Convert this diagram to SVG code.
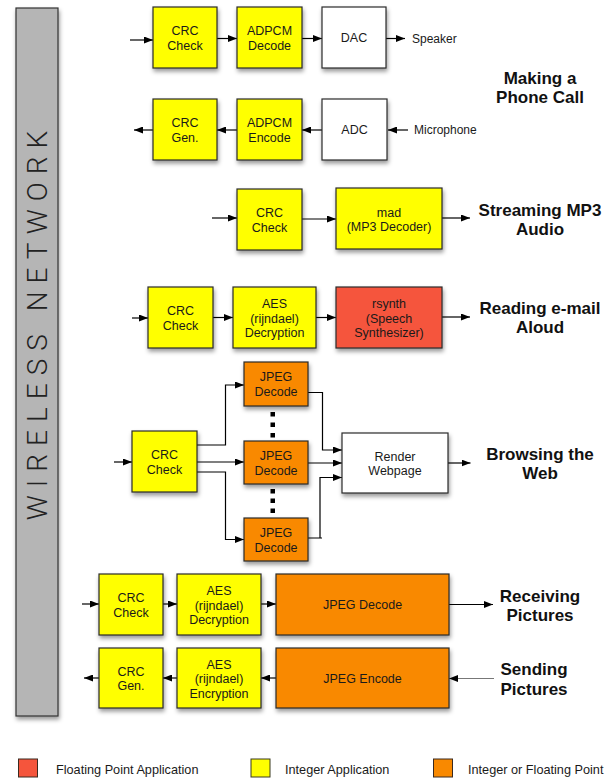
<svg xmlns="http://www.w3.org/2000/svg" width="615" height="778" viewBox="0 0 615 778">
<defs>
  <filter id="sh" x="-20%" y="-20%" width="140%" height="150%">
    <feDropShadow dx="1" dy="3" stdDeviation="2" flood-color="#000" flood-opacity="0.4"/>
  </filter>
  <marker id="ah" markerUnits="userSpaceOnUse" markerWidth="9" markerHeight="7" refX="9" refY="3.5" orient="auto">
    <path d="M0,0 L9,3.5 L0,7 z" fill="#000"/>
  </marker>
</defs>
<style>
  .box { stroke: #2b2b2b; stroke-width: 1.2; filter: url(#sh); }
  .y { fill: #ffff00; }
  .o { fill: #f98900; }
  .r { fill: #f5553c; }
  .w { fill: #ffffff; }
  .t { font-family: "Liberation Sans", Arial, sans-serif; font-size: 12.5px; fill: #1a1a1a; text-anchor: middle; }
  .lab { font-family: "Liberation Sans", Arial, sans-serif; font-size: 12px; fill: #1a1a1a; }
  .ttl { font-family: "Liberation Sans", Arial, sans-serif; font-size: 17px; font-weight: bold; fill: #111; text-anchor: middle; }
  .leg { font-family: "Liberation Sans", Arial, sans-serif; font-size: 12.7px; fill: #1a1a1a; }
  .c { fill: none; stroke: #000; stroke-width: 1.2; marker-end: url(#ah); }
  .side { font-family: Roboto, "Liberation Sans", sans-serif; font-weight: 300; font-size: 28px; fill: #222; text-anchor: middle; letter-spacing: 8px; }
</style>

<g id="sidebar">
  <rect x="16" y="8" width="42" height="708" fill="#b5b5b5" stroke="#333" stroke-width="1.2" filter="url(#sh)"/>
  <text class="side" transform="translate(46.5 321.5) rotate(-90)">WIRELESS NETWORK</text>
</g>

<g id="connectors">
  <!-- row 1 -->
  <path class="c" d="M130,40 H153"/>
  <path class="c" d="M217,38.5 H237"/>
  <path class="c" d="M302,38.5 H322"/>
  <path class="c" d="M386,38.5 H405"/>
  <!-- row 2 -->
  <path class="c" d="M322,130 H302"/>
  <path class="c" d="M237,130 H217"/>
  <path class="c" d="M153,130 H134"/>
  <path class="c" d="M408,130 H388"/>
  <!-- row 3 -->
  <path class="c" d="M212,218 H237"/>
  <path class="c" d="M302,219 H336"/>
  <path class="c" d="M442,218 H470"/>
  <!-- row 4 -->
  <path class="c" d="M132,318 H148"/>
  <path class="c" d="M213,317.5 H233"/>
  <path class="c" d="M316,317.5 H336"/>
  <path class="c" d="M442,317 H470"/>
  <!-- browsing -->
  <path class="c" d="M114,462 H132"/>
  <path class="c" d="M197,445 H225.5 V385 H244"/>
  <path class="c" d="M197,462 H244"/>
  <path class="c" d="M197,472 H225.5 V539.5 H244"/>
  <path class="c" d="M308,392.5 H322.5 V450 H342"/>
  <path class="c" d="M308,463 H342"/>
  <path class="c" d="M308,538 H322 M320,538 V477.5 H342"/>
  <path class="c" d="M448,463 H470.5"/>
  <!-- row 6 -->
  <path class="c" d="M82,604 H99"/>
  <path class="c" d="M163,604 H177"/>
  <path class="c" d="M261,604 H276"/>
  <path class="c" d="M449,604.5 H493"/>
  <!-- row 7 -->
  <path class="c" d="M276,678 H261"/>
  <path class="c" d="M177,678 H163"/>
  <path class="c" d="M99,678 H84"/>
  <path class="c" d="M494,678.5 H449" style="stroke:#777"/>
</g>

<!-- Row 1 -->
<g id="r1-crc"><rect class="box y" x="153" y="7" width="64" height="61"/><text class="t" x="185" y="35">CRC</text><text class="t" x="185" y="49.5">Check</text></g>
<g id="r1-adpcm"><rect class="box y" x="237" y="7" width="65" height="61"/><text class="t" x="269.5" y="35">ADPCM</text><text class="t" x="269.5" y="49.5">Decode</text></g>
<g id="r1-dac"><rect class="box w" x="322" y="7" width="64" height="61"/><text class="t" x="354" y="42">DAC</text></g>
<g id="r1-speaker"><text class="lab" x="412" y="43">Speaker</text></g>

<!-- Row 2 -->
<g id="r2-crc"><rect class="box y" x="153" y="99" width="64" height="61"/><text class="t" x="185" y="127">CRC</text><text class="t" x="185" y="141.5">Gen.</text></g>
<g id="r2-adpcm"><rect class="box y" x="237" y="99" width="65" height="61"/><text class="t" x="269.5" y="127">ADPCM</text><text class="t" x="269.5" y="141.5">Encode</text></g>
<g id="r2-adc"><rect class="box w" x="322" y="99" width="65" height="61"/><text class="t" x="354.5" y="134">ADC</text></g>
<g id="r2-mic"><text class="lab" x="414" y="134">Microphone</text></g>
<g id="title-phone"><text class="ttl" x="540" y="84">Making a</text><text class="ttl" x="540" y="103">Phone Call</text></g>

<!-- Row 3 -->
<g id="r3-crc"><rect class="box y" x="237" y="189" width="65" height="61"/><text class="t" x="269.5" y="217">CRC</text><text class="t" x="269.5" y="231.5">Check</text></g>
<g id="r3-mad"><rect class="box y" x="336" y="188" width="106" height="61"/><text class="t" x="389" y="216.5">mad</text><text class="t" x="389" y="231">(MP3 Decoder)</text></g>
<g id="title-mp3"><text class="ttl" x="540" y="216">Streaming MP3</text><text class="ttl" x="540" y="235">Audio</text></g>

<!-- Row 4 -->
<g id="r4-crc"><rect class="box y" x="148" y="287" width="65" height="61"/><text class="t" x="180.5" y="315">CRC</text><text class="t" x="180.5" y="329.5">Check</text></g>
<g id="r4-aes"><rect class="box y" x="233" y="287" width="83" height="61"/><text class="t" x="274.5" y="308">AES</text><text class="t" x="274.5" y="322.7">(rijndael)</text><text class="t" x="274.5" y="337.3">Decryption</text></g>
<g id="r4-rsynth"><rect class="box r" x="336" y="287" width="106" height="61"/><text class="t" x="389" y="308">rsynth</text><text class="t" x="389" y="322.7">(Speech</text><text class="t" x="389" y="337.3">Synthesizer)</text></g>
<g id="title-email"><text class="ttl" x="540" y="314">Reading e-mail</text><text class="ttl" x="540" y="333">Aloud</text></g>

<!-- Browsing -->
<g id="b-crc"><rect class="box y" x="132" y="431" width="65" height="61"/><text class="t" x="164.5" y="459">CRC</text><text class="t" x="164.5" y="473.5">Check</text></g>
<g id="b-jpeg1"><rect class="box o" x="244" y="362" width="64" height="44"/><text class="t" x="276" y="381.2">JPEG</text><text class="t" x="276" y="395.5">Decode</text></g>
<g id="b-jpeg2"><rect class="box o" x="244" y="441" width="64" height="43"/><text class="t" x="276" y="460">JPEG</text><text class="t" x="276" y="474.5">Decode</text></g>
<g id="b-jpeg3"><rect class="box o" x="244" y="518" width="64" height="43"/><text class="t" x="276" y="537">JPEG</text><text class="t" x="276" y="551.5">Decode</text></g>
<g id="b-dots" fill="#000">
  <rect x="270.5" y="412" width="4.5" height="4.5"/><rect x="270.5" y="422.5" width="4.5" height="4.5"/><rect x="270.5" y="433" width="4.5" height="4.5"/>
  <rect x="270.5" y="489" width="4.5" height="4.5"/><rect x="270.5" y="498.5" width="4.5" height="4.5"/><rect x="270.5" y="508.5" width="4.5" height="4.5"/>
</g>
<g id="b-render"><rect class="box w" x="342" y="433" width="106" height="60"/><text class="t" x="395" y="460.5">Render</text><text class="t" x="395" y="475">Webpage</text></g>
<g id="title-web"><text class="ttl" x="540" y="460">Browsing the</text><text class="ttl" x="540" y="479">Web</text></g>

<!-- Row 6 -->
<g id="r6-crc"><rect class="box y" x="99" y="574" width="64" height="61"/><text class="t" x="131" y="602">CRC</text><text class="t" x="131" y="616.5">Check</text></g>
<g id="r6-aes"><rect class="box y" x="177" y="574" width="84" height="61"/><text class="t" x="219" y="595">AES</text><text class="t" x="219" y="609.7">(rijndael)</text><text class="t" x="219" y="624.3">Decryption</text></g>
<g id="r6-jpeg"><rect class="box o" x="276" y="574" width="173" height="61"/><text class="t" x="362.5" y="609">JPEG Decode</text></g>
<g id="title-recv"><text class="ttl" x="540" y="602">Receiving</text><text class="ttl" x="540" y="621">Pictures</text></g>

<!-- Row 7 -->
<g id="r7-crc"><rect class="box y" x="99" y="648" width="64" height="60"/><text class="t" x="131" y="675.5">CRC</text><text class="t" x="131" y="690">Gen.</text></g>
<g id="r7-aes"><rect class="box y" x="177" y="648" width="84" height="60"/><text class="t" x="219" y="668.5">AES</text><text class="t" x="219" y="683.2">(rijndael)</text><text class="t" x="219" y="697.8">Encryption</text></g>
<g id="r7-jpeg"><rect class="box o" x="276" y="648" width="173" height="60"/><text class="t" x="362.5" y="682.5">JPEG Encode</text></g>
<g id="title-send"><text class="ttl" x="534" y="675">Sending</text><text class="ttl" x="534" y="695">Pictures</text></g>

<!-- Legend -->
<g id="legend">
  <rect x="18.5" y="759" width="19" height="18" fill="#f5553c" stroke="#3a2a20" stroke-width="1"/>
  <text class="leg" x="56" y="773.5">Floating Point Application</text>
  <rect x="251" y="759" width="19" height="18" fill="#ffff00" stroke="#3a3a20" stroke-width="1"/>
  <text class="leg" x="285" y="773.5">Integer Application</text>
  <rect x="433.5" y="759" width="19" height="18" fill="#f98900" stroke="#3a2a20" stroke-width="1"/>
  <text class="leg" x="468" y="773.5">Integer or Floating Point</text>
</g>
</svg>
